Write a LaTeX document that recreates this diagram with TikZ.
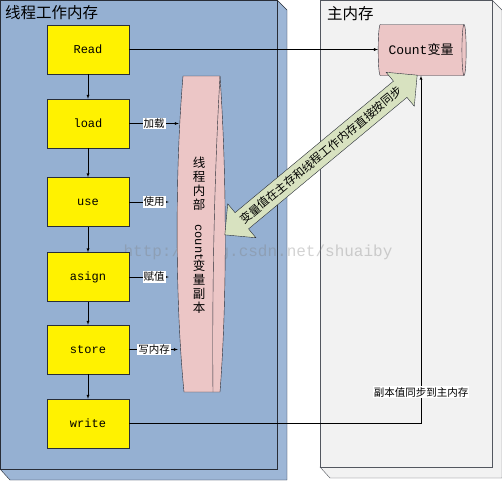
\documentclass[tikz,border=0pt]{standalone}
\usepackage{fontspec}
\setmainfont{Noto Sans CJK SC}
\setmonofont{Liberation Mono}
\usetikzlibrary{calc}
\usetikzlibrary{arrows}
\usetikzlibrary{shapes.geometric,shapes.arrows}

\definecolor{panelblue}{RGB}{149,176,210}
\definecolor{panelgray}{RGB}{242,242,242}
\definecolor{copypink}{RGB}{236,198,198}
\definecolor{syncgreen}{RGB}{216,226,192}
\definecolor{edge}{RGB}{40,45,55}

\begin{document}
\begin{tikzpicture}[x=1pt,y=-1pt, >=latex,
  stepbox/.style={draw=edge, fill=yellow, minimum width=82pt, minimum height=49pt, inner sep=0pt, font=\ttfamily\fontsize{12}{12}\selectfont},
  tag/.style={fill=white, inner sep=1pt, font=\fontsize{10.5}{10.5}\selectfont},
  title/.style={anchor=west, inner sep=0pt, font=\fontsize{15.5}{15.5}\selectfont}]
\useasboundingbox (0,0) rectangle (502,480);
% working memory of the thread
\filldraw[fill=panelblue!92!white, draw=edge] (277,0) -- (287,10) -- (287,480) -- (10,480) -- (0,469) -- (277,469) -- cycle;
\filldraw[fill=panelblue, draw=edge] (0.5,0.5) rectangle (277,469);
\node[title] (workTitle) at (5,13) {线程工作内存};
% main memory
\filldraw[fill=panelgray, draw=edge!80] (492,0) -- (502,10) -- (502,478) -- (330,478) -- (320,467) -- (492,467) -- cycle;
\filldraw[fill=panelgray, draw=edge!80] (320,0) rectangle (492,467);
\node[title] (mainTitle) at (327,14) {主内存};
% the watermark
\node[text=gray, opacity=.35, font=\ttfamily\fontsize{16}{16}\selectfont] (mark) at (258,252) {http://blog.csdn.net/shuaiby};
% steps
\foreach \n/\t/\y in {read/Read/49.5, load/load/123.5, use/use/202, asign/asign/277, store/store/349.5, write/write/423.5}
  \node[stepbox] (\n) at (88,\y) {\t};
\foreach \a/\b in {read/load, load/use, use/asign, asign/store, store/write}
  \draw[->] (\a) -- (\b);
% copy of count inside the thread
\filldraw[fill=copypink, draw=edge] (183,76) -- (220,76) .. controls (227,180) and (227,300) .. (220,392) -- (184,392) .. controls (175,300) and (175,170) .. (183,76) -- cycle;
\draw[edge] (220,76) .. controls (214,180) and (212,300) .. (213,392);
\node[minimum width=44pt, minimum height=316pt, inner sep=0pt] (copy) at (201,234) {};
\node[align=center, inner sep=0pt, font=\fontsize{12.5}{14}\selectfont] (copyText) at (199,235)
  {线\\程\\内\\部\\[1pt]\rotatebox{-90}{\ttfamily\fontsize{12}{12}\selectfont count}\\[-2pt]变\\量\\副\\本};
\foreach \n/\t/\s in {load/加载/0, use/使用/10, asign/赋值/10, store/写内存/1}
  \draw[->, shorten >=\s pt] (\n.east) -- (\n.east -| copy.west) node[midway, tag] {\t};
% count in main memory
\node[cylinder, shape border rotate=0, draw=edge, fill=copypink, aspect=0.35, minimum width=51pt, minimum height=88pt, inner sep=0pt, font=\fontsize{13}{13}\selectfont] (count) at (421,50) {\texttt{Count}变量};
\draw[->] (read.east) -- (read.east -| count.west);
\draw[->] (write.east) -| (count.south) node[pos=.545, tag] {副本值同步到主内存};
% sync arrow
\node[double arrow, draw=edge, fill=syncgreen, rotate=39.7, minimum height=250pt, inner xsep=0pt, inner ysep=5pt, double arrow head extend=11.5pt, font=\fontsize{11.5}{11.5}\selectfont] (sync) at (321,155) {变量值在主存和线程工作内存直接按同步};
\end{tikzpicture}
\end{document}
